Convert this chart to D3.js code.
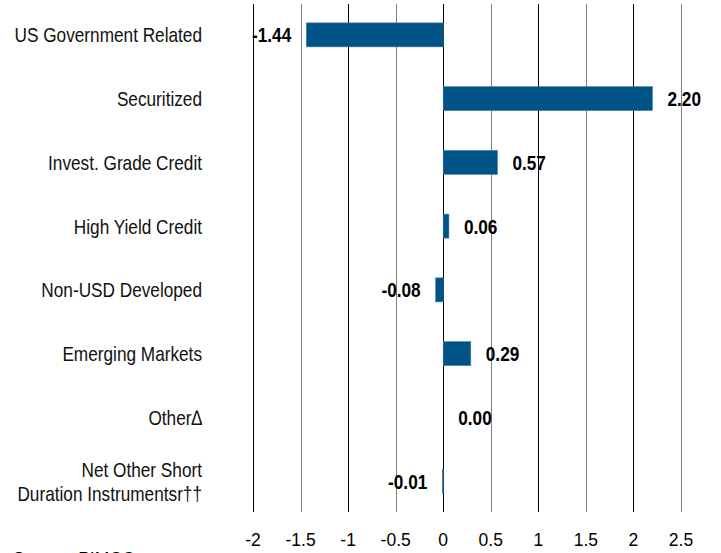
<!DOCTYPE html>
<html>
<head>
<meta charset="utf-8">
<script src="https://cdn.jsdelivr.net/npm/d3@7"></script>
<style>
  body { margin: 0; background: #fff; }
</style>
</head>
<body>
<div id="chart"></div>
<script>
// data
const categories = ["US Government Related", "Securitized", "Invest. Grade Credit", "High Yield Credit",
  "Non-USD Developed", "Emerging Markets", "Other\u2206", "Net Other Short|Duration Instrumentsr\u2020\u2020"]
const values = [-1.44, 2.20, 0.57, 0.06, -0.08, 0.29, 0.00, -0.01]
const tickValues = [-2, -1.5, -1, -0.5, 0, 0.5, 1, 1.5, 2, 2.5]
const tickLabels = ["-2", "-1.5", "-1", "-0.5", "0", "0.5", "1", "1.5", "2", "2.5"]

const width = 721,
    height = 553

// no narrow font installed, so squeeze Liberation Sans horizontally instead
const font = "'Liberation Sans', Arial, sans-serif"
const squeeze = 0.82

const svg = d3.select("#chart")
  .append("svg")
    .attr("width", width)
    .attr("height", height)

// scales
const x = d3.scaleLinear()
  .domain([-2, 2.5])
  .range([253, 681])

const y = d3.scalePoint()
  .domain(categories)
  .range([3, 513])
  .padding(0.5)

const barH = 24

// vertical grid lines, black on whole numbers, grey on halves
svg.append("g")
  .selectAll("line")
  .data(tickValues)
  .join("line")
    .attr("x1", d => Math.round(x(d)) + 0.5)
    .attr("x2", d => Math.round(x(d)) + 0.5)
    .attr("y1", 4)
    .attr("y2", 512)
    .attr("stroke", d => Number.isInteger(d) ? "#000" : "#808080")
    .attr("stroke-width", 1)

// x axis labels
svg.append("g")
  .selectAll("text")
  .data(tickValues)
  .join("text")
    .attr("x", d => x(d))
    .attr("y", 546)
    .attr("text-anchor", "middle")
    .style("font-family", font)
    .style("font-size", "17.5px")
    .text((d, i) => tickLabels[i])

// bars
const rows = categories.map((c, i) => ({ cat: c, value: values[i] }))

svg.append("g")
  .selectAll("rect")
  .data(rows)
  .join("rect")
    .attr("x", d => x(Math.min(0, d.value)))
    .attr("y", d => y(d.cat) - barH / 2)
    .attr("width", d => Math.abs(x(d.value) - x(0)))
    .attr("height", barH)
    .attr("fill", "#005387")
    .attr("stroke", "#4a7fa8")
    .attr("stroke-width", 0.6)

// value labels
svg.append("g")
  .selectAll("text")
  .data(rows)
  .join("text")
    .attr("transform", d => `translate(${d.value < 0 ? x(d.value) - 15 : x(d.value) + 15},${y(d.cat)}) scale(${squeeze},1)`)
    .attr("dy", "0.36em")
    .attr("text-anchor", d => d.value < 0 ? "end" : "start")
    .style("font-family", font)
    .style("font-weight", "bold")
    .style("font-size", "21px")
    .text(d => d.value.toFixed(2))

// category labels, "|" splits a label into two lines
const catText = svg.append("g")
  .selectAll("text")
  .data(categories)
  .join("text")
    .attr("transform", d => `translate(202,${y(d)}) scale(${squeeze},1)`)
    .attr("text-anchor", "end")
    .style("font-family", font)
    .style("font-size", "21px")
    .style("fill", "#111")

catText.each(function(d) {
  const parts = d.split("|")
  const el = d3.select(this)
  parts.forEach((p, i) => {
    el.append("tspan")
      .attr("x", 0)
      .attr("dy", i === 0 ? (0.36 - (parts.length - 1) * 0.57) + "em" : "1.14em")
      .text(p)
  })
})

// source line, cut off by the bottom edge like in the original
svg.append("text")
  .attr("x", 13)
  .attr("y", 565)
  .style("font-family", font)
  .style("font-size", "17.5px")
  .text("Source: PIMCO")
</script>
</body>
</html>
